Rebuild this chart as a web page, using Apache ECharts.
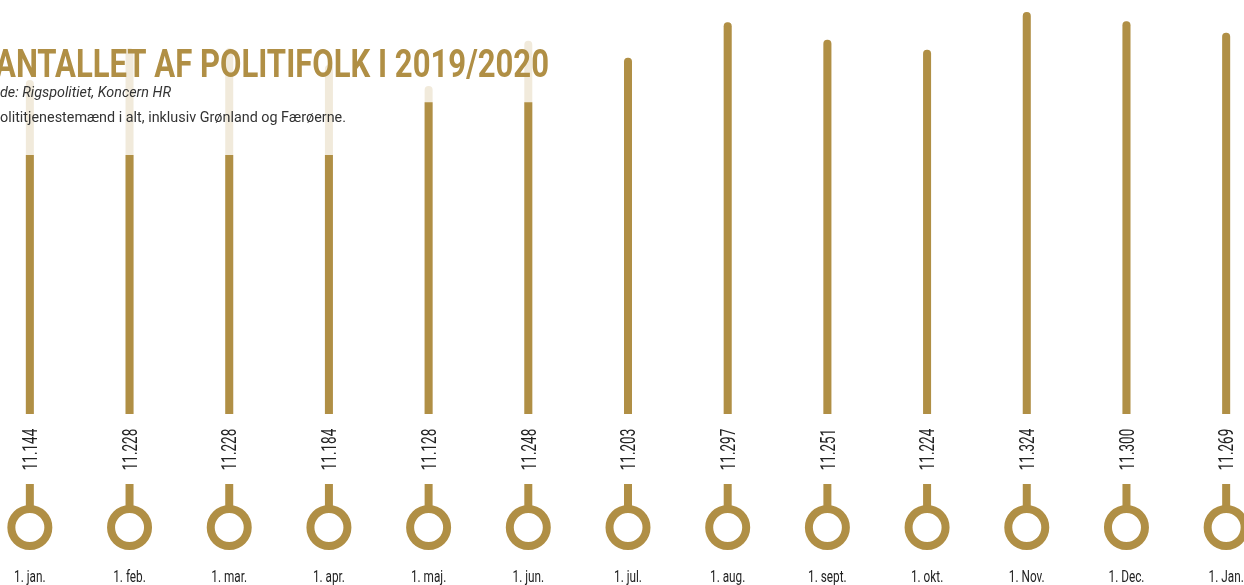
<!DOCTYPE html>
<html>
<head>
<meta charset="utf-8">
<title>Antallet af politifolk i 2019/2020</title>
<script src="https://cdn.jsdelivr.net/npm/echarts@6/dist/echarts.min.js"></script>
<style>
  html, body { margin: 0; padding: 0; background: #fff; }
  #chart { width: 1244px; height: 585px; }
</style>
</head>
<body>
<div id="chart"></div>
<script>
// data
var months = ['1. jan.', '1. feb.', '1. mar.', '1. apr.', '1. maj.', '1. jun.', '1. jul.',
              '1. aug.', '1. sept.', '1. okt.', '1. Nov.', '1. Dec.', '1. Jan.'];
var politifolk = [11144, 11228, 11228, 11184, 11128, 11248, 11203,
                  11297, 11251, 11224, 11324, 11300, 11269];
// how far the gold fill reaches on each bar (the rest is the pale part)
var fillLevels = [10945, 10945, 10945, 10945, 11085, 11085, 11203,
                  11297, 11251, 11224, 11324, 11300, 11269];

var GOLD = '#b08f45';
var CREAM = '#f1eadb';
var TEXT = '#222';
var FONT = 'Roboto, "Liberation Sans", sans-serif';

var titleFont = 'bold 39px ' + FONT;
var kildeFont = 'italic 14px ' + FONT;
var noteFont = '15px ' + FONT;
var valueFont = '21px ' + FONT;
var monthFont = '16px ' + FONT;

// dansk tusindtalsseparator
function fmt(v) {
    var s = String(v);
    return s.slice(0, s.length - 3) + '.' + s.slice(s.length - 3);
}

// the original uses a condensed typeface: squeeze the text horizontally to its width
var measureCtx = document.createElement('canvas').getContext('2d');
function squeeze(text, font, width) {
    measureCtx.font = font;
    return width / measureCtx.measureText(text).width;
}
var valueScale = squeeze('11.144', valueFont, 41.5);
var monthScale = squeeze('1. jan.', monthFont, 31.5);

var chart = echarts.init(document.getElementById('chart'), null, { renderer: 'canvas' });

// the part under the baseline: value, stem, ring and month
function renderFoot(params, api) {
    var i = api.value(0);
    var p = api.coord([i, 0]);
    var x = p[0];
    var top = params.coordSys.y;   // baseline
    return {
        type: 'group',
        children: [
            {
                type: 'text',
                x: x + 2, y: top + 35.5,
                rotation: Math.PI / 2,
                scaleX: valueScale,
                style: {
                    text: fmt(politifolk[i]), font: valueFont, fill: TEXT,
                    align: 'center', verticalAlign: 'middle'
                }
            },
            {
                type: 'rect',
                shape: { x: x - 4, y: top + 70, width: 8, height: 24 },
                style: { fill: GOLD }
            },
            {
                type: 'circle',
                shape: { cx: x, cy: top + 113.5, r: 18.5 },
                style: { fill: '#fff', stroke: GOLD, lineWidth: 8 }
            },
            {
                type: 'text',
                x: x, y: top + 164,
                scaleX: monthScale,
                style: {
                    text: months[i], font: monthFont, fill: TEXT,
                    align: 'center', verticalAlign: 'middle'
                }
            }
        ]
    };
}

var option = {
    animation: false,
    backgroundColor: '#fff',
    grid: [
        { left: -20, right: -32, top: 0, height: 414, outerBoundsMode: 'none', containLabel: false },
        { left: -20, right: -32, top: 414, height: 171, outerBoundsMode: 'none', containLabel: false }
    ],
    xAxis: [
        { type: 'category', gridIndex: 0, data: months, show: false },
        { type: 'category', gridIndex: 1, data: months, show: false }
    ],
    yAxis: [
        { type: 'value', gridIndex: 0, min: 10259, max: 11356, show: false },
        { type: 'value', gridIndex: 1, min: 0, max: 1, show: false }
    ],
    series: [
        {
            name: 'i alt',
            type: 'bar',
            xAxisIndex: 0, yAxisIndex: 0,
            barWidth: 8,
            barGap: '-100%',
            itemStyle: { color: CREAM, borderRadius: [4, 4, 0, 0] },
            data: politifolk,
            z: 1
        },
        {
            name: 'fyldt',
            type: 'bar',
            xAxisIndex: 0, yAxisIndex: 0,
            barWidth: 8,
            data: fillLevels.map(function (v, i) {
                return {
                    value: v,
                    itemStyle: {
                        color: GOLD,
                        borderRadius: v === politifolk[i] ? [4, 4, 0, 0] : 0
                    }
                };
            }),
            z: 2
        },
        {
            type: 'custom',
            xAxisIndex: 1, yAxisIndex: 1,
            silent: true,
            renderItem: renderFoot,
            data: politifolk.map(function (v, i) { return [i, v]; }),
            z: 3
        }
    ],
    graphic: [
        {
            type: 'text', x: -5, y: 67.5, z: 100,
            scaleX: squeeze('ANTALLET AF POLITIFOLK I 2019/2020', titleFont, 554),
            style: {
                text: 'ANTALLET AF POLITIFOLK I 2019/2020',
                fill: GOLD, font: titleFont, verticalAlign: 'middle'
            }
        },
        {
            type: 'text', x: 0, y: 93.5, z: 100,
            scaleX: squeeze('de: Rigspolitiet, Koncern HR', kildeFont, 171),
            style: {
                text: 'de: Rigspolitiet, Koncern HR',
                fill: '#333', font: kildeFont, verticalAlign: 'middle'
            }
        },
        {
            type: 'text', x: 0, y: 118.5, z: 100,
            scaleX: squeeze('olititjenestemænd i alt, inklusiv Grønland og Færøerne.', noteFont, 346),
            style: {
                text: 'olititjenestemænd i alt, inklusiv Grønland og Færøerne.',
                fill: '#333', font: noteFont, verticalAlign: 'middle'
            }
        }
    ]
};

chart.setOption(option);
</script>
</body>
</html>
